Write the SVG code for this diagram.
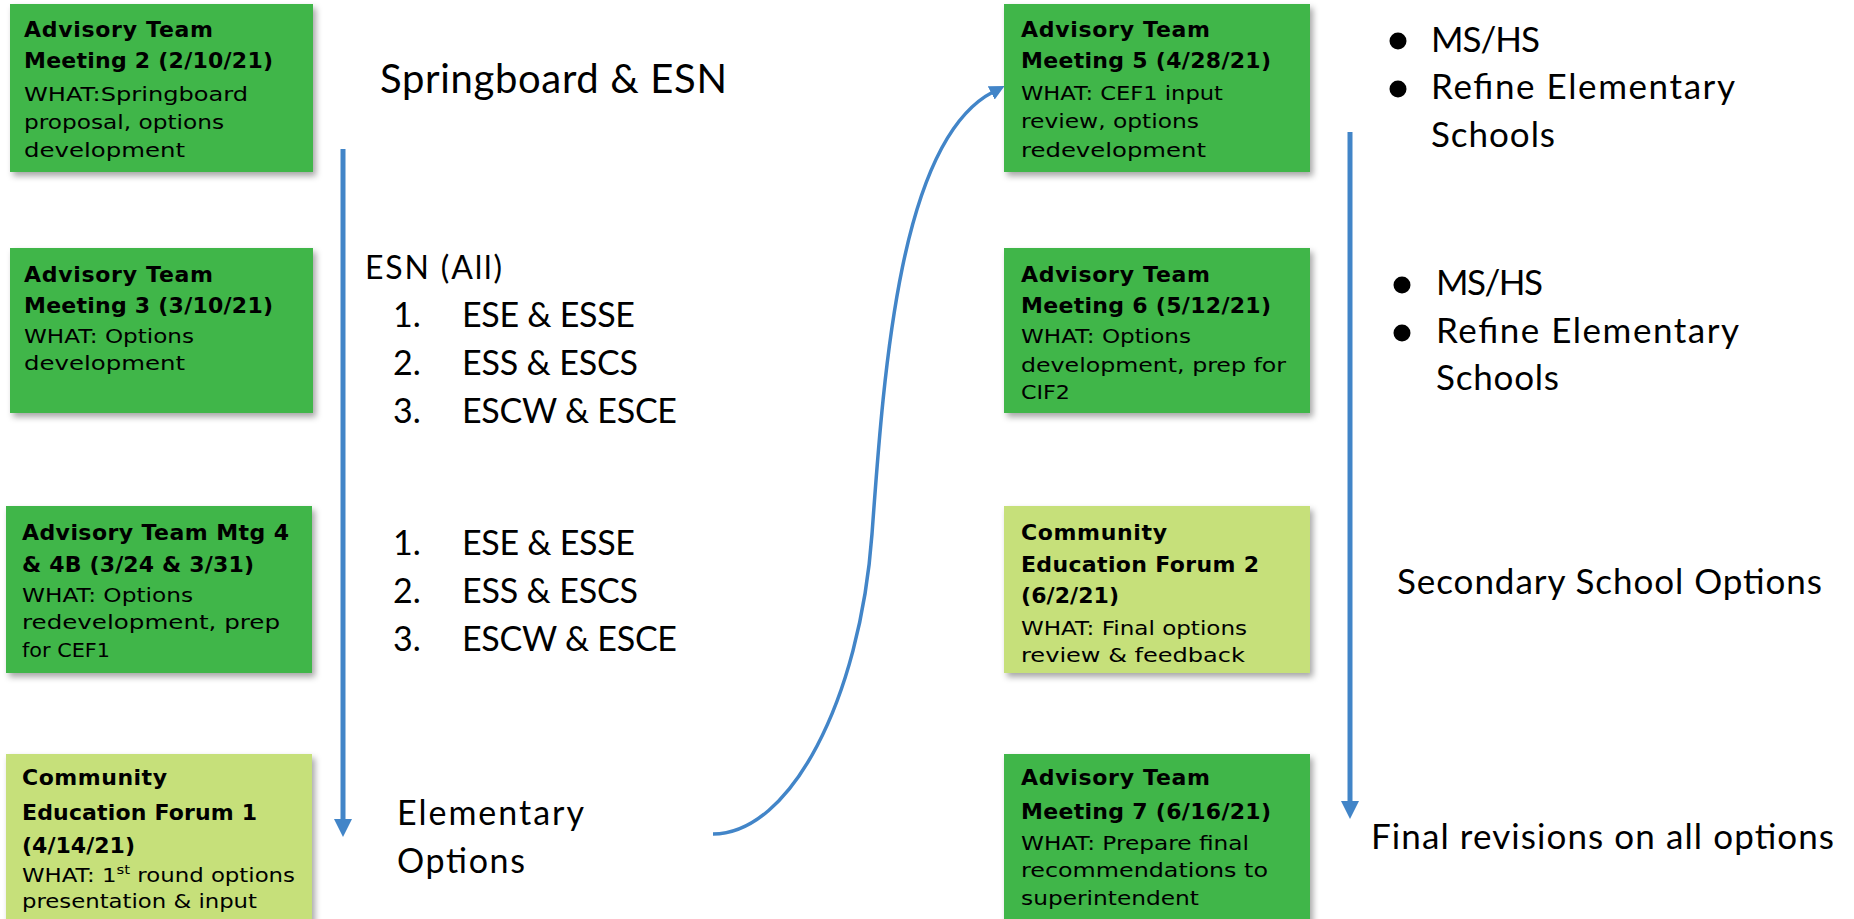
<svg xmlns="http://www.w3.org/2000/svg" width="1854" height="919" viewBox="0 0 1854 919">
<defs>
<style>
.bg{fill:#ffffff}
.dk{fill:#41b649}
.lt{fill:#c6e07a}
.box{filter:url(#sh)}
.tt{font-family:"DejaVu Sans",sans-serif;font-weight:bold;font-size:22px;fill:#000}
.bd{font-family:"DejaVu Sans",sans-serif;font-size:20px;fill:#000}
.mt{font-family:"Lato","Liberation Sans",sans-serif;fill:#000}
.ln{fill:none;stroke:#4285c8}
</style>
<filter id="sh" x="-10%" y="-10%" width="130%" height="130%">
<feDropShadow dx="3" dy="4" stdDeviation="3" flood-color="#000" flood-opacity="0.35"/>
</filter>
<marker id="ah" markerUnits="userSpaceOnUse" markerWidth="18" markerHeight="18" viewBox="0 0 18 18" refX="0" refY="9" orient="auto">
<path d="M0,0 L18,9 L0,18 z" fill="#4285c8"/>
</marker>
<marker id="ah2" markerUnits="userSpaceOnUse" markerWidth="15" markerHeight="15" viewBox="0 0 15 15" refX="2" refY="7.5" orient="auto">
<path d="M0,0 L15,7.5 L0,15 z" fill="#4285c8"/>
</marker>
</defs>
<rect class="bg" x="0" y="0" width="1854" height="919"/>

<g id="connectors">
<line class="ln" x1="343" y1="149" x2="343" y2="819" stroke-width="5" marker-end="url(#ah)"/>
<line class="ln" x1="1350" y1="132" x2="1350" y2="801" stroke-width="5" marker-end="url(#ah)"/>
<path class="ln" d="M713,834 C790,834 860,700 872,534 C884,368 900,140 993,92" stroke-width="3.5" marker-end="url(#ah2)"/>
</g>

<g id="node-atm2">
<rect class="dk box" x="10" y="4" width="303" height="168"/>
<text class="tt" x="24" y="37" textLength="189">Advisory Team</text>
<text class="tt" x="24" y="68" textLength="249">Meeting 2 (2/10/21)</text>
<text class="bd" x="24" y="101" textLength="224" lengthAdjust="spacingAndGlyphs">WHAT:Springboard</text>
<text class="bd" x="24" y="129" textLength="200" lengthAdjust="spacingAndGlyphs">proposal, options</text>
<text class="bd" x="24" y="157" textLength="161" lengthAdjust="spacingAndGlyphs">development</text>
</g>

<g id="node-atm3">
<rect class="dk box" x="10" y="248" width="303" height="165"/>
<text class="tt" x="24" y="282" textLength="189">Advisory Team</text>
<text class="tt" x="24" y="313" textLength="249">Meeting 3 (3/10/21)</text>
<text class="bd" x="24" y="343" textLength="170" lengthAdjust="spacingAndGlyphs">WHAT: Options</text>
<text class="bd" x="24" y="370" textLength="161" lengthAdjust="spacingAndGlyphs">development</text>
</g>

<g id="node-atm4">
<rect class="dk box" x="6" y="506" width="306" height="167"/>
<text class="tt" x="22" y="540" textLength="267">Advisory Team Mtg 4</text>
<text class="tt" x="22" y="572" textLength="232">&amp; 4B  (3/24 &amp; 3/31)</text>
<text class="bd" x="22" y="602" textLength="171" lengthAdjust="spacingAndGlyphs">WHAT: Options</text>
<text class="bd" x="22" y="629" textLength="258" lengthAdjust="spacingAndGlyphs">redevelopment, prep</text>
<text class="bd" x="22" y="657" textLength="88" lengthAdjust="spacingAndGlyphs">for CEF1</text>
</g>

<g id="node-cef1">
<rect class="lt box" x="6" y="754" width="306" height="175"/>
<text class="tt" x="22" y="785" textLength="145">Community</text>
<text class="tt" x="22" y="820" textLength="235">Education Forum 1</text>
<text class="tt" x="22" y="853" textLength="113">(4/14/21)</text>
<text class="bd" x="22" y="882" textLength="273" lengthAdjust="spacingAndGlyphs">WHAT: 1<tspan dy="-8" font-size="13">st</tspan><tspan dy="8"> round options</tspan></text>
<text class="bd" x="22" y="908" textLength="235" lengthAdjust="spacingAndGlyphs">presentation &amp; input</text>
</g>

<g id="node-atm5">
<rect class="dk box" x="1004" y="4" width="306" height="168"/>
<text class="tt" x="1021" y="37" textLength="189">Advisory Team</text>
<text class="tt" x="1021" y="68" textLength="250">Meeting 5 (4/28/21)</text>
<text class="bd" x="1021" y="100" textLength="202" lengthAdjust="spacingAndGlyphs">WHAT: CEF1 input</text>
<text class="bd" x="1021" y="128" textLength="178" lengthAdjust="spacingAndGlyphs">review, options</text>
<text class="bd" x="1021" y="157" textLength="185" lengthAdjust="spacingAndGlyphs">redevelopment</text>
</g>

<g id="node-atm6">
<rect class="dk box" x="1004" y="248" width="306" height="165"/>
<text class="tt" x="1021" y="282" textLength="189">Advisory Team</text>
<text class="tt" x="1021" y="313" textLength="250">Meeting 6 (5/12/21)</text>
<text class="bd" x="1021" y="343" textLength="170" lengthAdjust="spacingAndGlyphs">WHAT: Options</text>
<text class="bd" x="1021" y="372" textLength="265" lengthAdjust="spacingAndGlyphs">development, prep for</text>
<text class="bd" x="1021" y="399" textLength="49" lengthAdjust="spacingAndGlyphs">CIF2</text>
</g>

<g id="node-cef2">
<rect class="lt box" x="1004" y="506" width="306" height="167"/>
<text class="tt" x="1021" y="540" textLength="146">Community</text>
<text class="tt" x="1021" y="572" textLength="238">Education Forum 2</text>
<text class="tt" x="1021" y="603" textLength="98">(6/2/21)</text>
<text class="bd" x="1021" y="635" textLength="226" lengthAdjust="spacingAndGlyphs">WHAT: Final options</text>
<text class="bd" x="1021" y="662" textLength="224" lengthAdjust="spacingAndGlyphs">review &amp; feedback</text>
</g>

<g id="node-atm7">
<rect class="dk box" x="1004" y="754" width="306" height="175"/>
<text class="tt" x="1021" y="785" textLength="189">Advisory Team</text>
<text class="tt" x="1021" y="819" textLength="250">Meeting 7 (6/16/21)</text>
<text class="bd" x="1021" y="850" textLength="228" lengthAdjust="spacingAndGlyphs">WHAT: Prepare final</text>
<text class="bd" x="1021" y="877" textLength="247" lengthAdjust="spacingAndGlyphs">recommendations to</text>
<text class="bd" x="1021" y="905" textLength="178" lengthAdjust="spacingAndGlyphs">superintendent</text>
</g>

<g id="label-springboard">
<text class="mt" x="380" y="93" font-size="40" textLength="347">Springboard &amp; ESN</text>
</g>

<g id="label-esn-all">
<text class="mt" x="365" y="279" font-size="32" textLength="137">ESN (All)</text>
<text class="mt" x="393" y="327" font-size="34">1.</text>
<text class="mt" x="462" y="327" font-size="34" textLength="173">ESE &amp; ESSE</text>
<text class="mt" x="393" y="375" font-size="34">2.</text>
<text class="mt" x="462" y="375" font-size="34" textLength="176">ESS &amp; ESCS</text>
<text class="mt" x="393" y="423" font-size="34">3.</text>
<text class="mt" x="462" y="423" font-size="34" textLength="215">ESCW &amp; ESCE</text>
</g>

<g id="label-list2">
<text class="mt" x="393" y="555" font-size="34">1.</text>
<text class="mt" x="462" y="555" font-size="34" textLength="173">ESE &amp; ESSE</text>
<text class="mt" x="393" y="603" font-size="34">2.</text>
<text class="mt" x="462" y="603" font-size="34" textLength="176">ESS &amp; ESCS</text>
<text class="mt" x="393" y="651" font-size="34">3.</text>
<text class="mt" x="462" y="651" font-size="34" textLength="215">ESCW &amp; ESCE</text>
</g>

<g id="label-elementary">
<text class="mt" x="397" y="825" font-size="34" textLength="187">Elementary</text>
<text class="mt" x="397" y="873" font-size="34" textLength="128">Options</text>
</g>

<g id="label-right1">
<circle cx="1398" cy="41" r="8.5" fill="#000"/>
<circle cx="1398" cy="89" r="8.5" fill="#000"/>
<text class="mt" x="1431" y="52" font-size="35" textLength="109">MS/HS</text>
<text class="mt" x="1431" y="99" font-size="35" textLength="304">Refine Elementary</text>
<text class="mt" x="1431" y="147" font-size="35" textLength="124">Schools</text>
</g>

<g id="label-right2">
<circle cx="1402" cy="285" r="8.5" fill="#000"/>
<circle cx="1402" cy="333" r="8.5" fill="#000"/>
<text class="mt" x="1436" y="295" font-size="35" textLength="107">MS/HS</text>
<text class="mt" x="1436" y="343" font-size="35" textLength="303">Refine Elementary</text>
<text class="mt" x="1436" y="390" font-size="35" textLength="123">Schools</text>
</g>

<g id="label-secondary">
<text class="mt" x="1397" y="594" font-size="35" textLength="425">Secondary School Options</text>
</g>

<g id="label-final">
<text class="mt" x="1371" y="849" font-size="35" textLength="463">Final revisions on all options</text>
</g>
</svg>
